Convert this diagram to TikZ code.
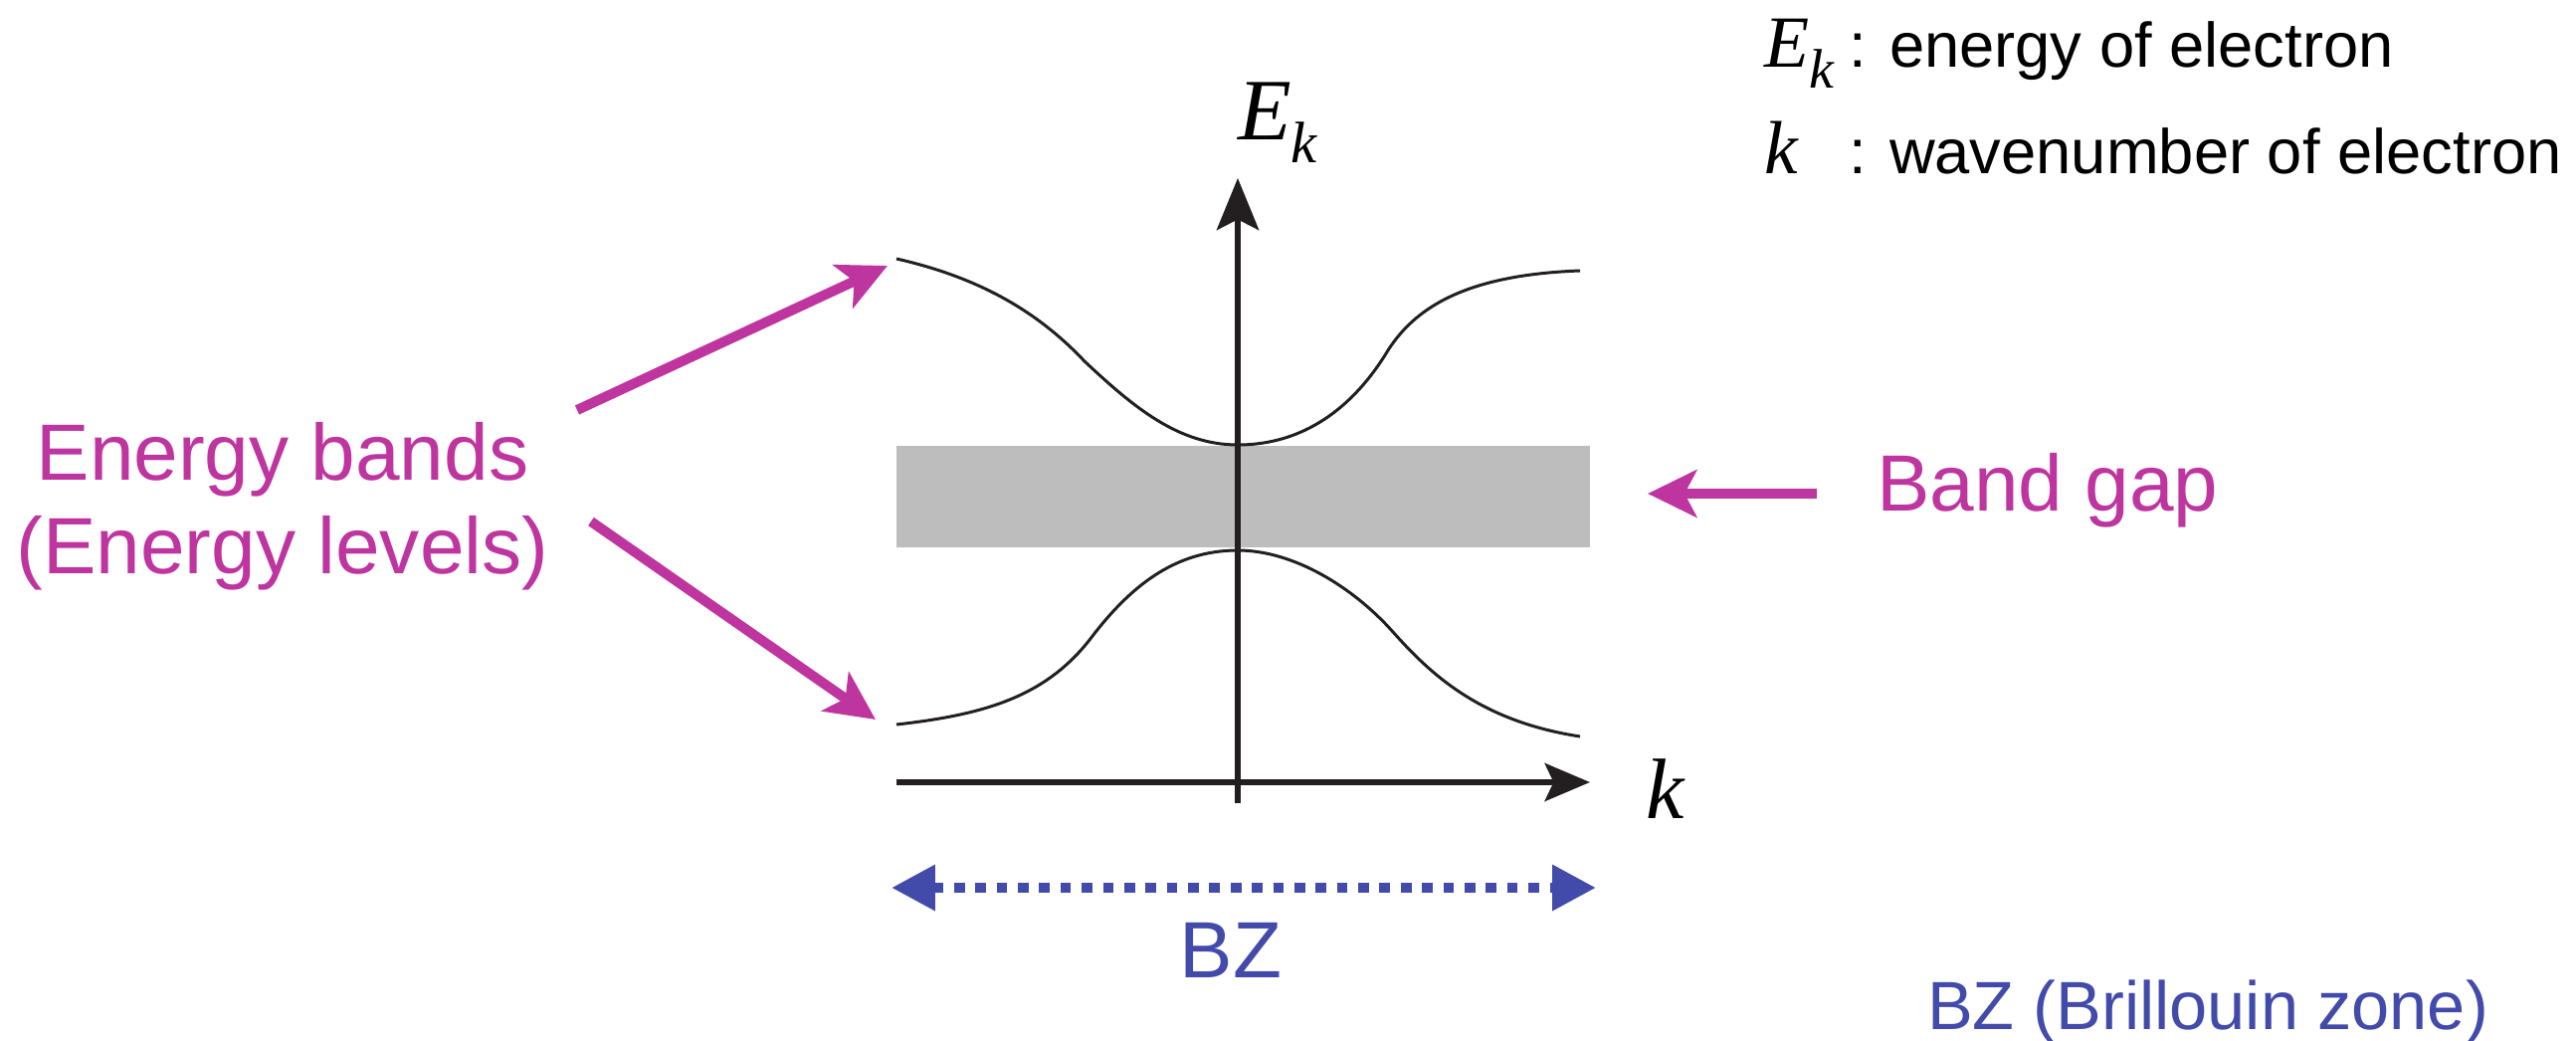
\documentclass[tikz,border=0pt]{standalone}
\usepackage{fontspec}
\setmainfont{Liberation Sans}
\newfontfamily\tmsfont{Liberation Serif}
\usetikzlibrary{arrows.meta}
\definecolor{mag}{RGB}{190,53,160}
\definecolor{bzblue}{RGB}{67,75,170}
\definecolor{gapgray}{RGB}{189,189,189}
\definecolor{inkblack}{RGB}{35,31,32}
\begin{document}
\begin{tikzpicture}[x=0.01cm,y=-0.01cm,
  lbl/.style={inner sep=0pt, outer sep=0pt},
  magtext/.style={lbl, text=mag, font=\fontsize{22.8pt}{27pt}\selectfont},
  bztext/.style={lbl, text=bzblue},
  legtext/.style={lbl, text=black, font=\fontsize{18pt}{22pt}\selectfont},
  magarrow/.style={draw=mag, line width=2.85pt, -{Stealth[length=14pt,width=13.5pt,inset=3.5pt]}},
  axisline/.style={draw=inkblack, line width=1.7pt},
  bandline/.style={draw=inkblack, line width=0.85pt},
  bzline/.style={draw=bzblue, line width=2.85pt, dash pattern=on 3.04pt off 3.04pt,
     {Triangle[length=12.5pt,width=12.5pt]}-{Triangle[length=12.5pt,width=12.5pt]}},
]
\useasboundingbox (0,0) rectangle (2589,1046);

% band gap
\fill[gapgray] (901,448) rectangle (1598,550);

% energy bands
\draw[bandline] (901,260) .. controls (980,278) and (1040,310) .. (1090,363)
  .. controls (1140,410) and (1185,447) .. (1244,447)
  .. controls (1310,447) and (1360,410) .. (1395,352)
  .. controls (1425,305) and (1480,276) .. (1588,272);
\draw[bandline] (901,728) .. controls (990,718) and (1050,700) .. (1095,643)
  .. controls (1135,590) and (1180,553) .. (1244,553)
  .. controls (1300,553) and (1360,590) .. (1400,635)
  .. controls (1440,680) and (1490,725) .. (1588,740);

% axes
\coordinate (vbot) at (1244,807);
\coordinate (vtop) at (1244,179);
\coordinate (hleft) at (901,786);
\coordinate (hright) at (1598,786);
\draw[axisline, -{Stealth[length=14.8pt,width=12pt,inset=3pt]}] (vbot) -- (vtop);
\draw[axisline, -{Stealth[length=12.9pt,width=10.8pt,inset=2.5pt]}] (hleft) -- (hright);

\node[lbl, anchor=base west] (Eaxis) at (1244,141)
  {\tmsfont\itshape\fontsize{25pt}{25pt}\selectfont E\raisebox{-6.3pt}{\fontsize{16.7pt}{16.7pt}\selectfont k}};
\node[lbl, anchor=base west] (kaxis) at (1654,822)
  {\tmsfont\itshape\fontsize{24.5pt}{24.5pt}\selectfont k};

% energy bands label and arrows
\node[magtext, anchor=base] (eb1) at (284,482) {Energy bands};
\node[magtext, anchor=base] (eb2) at (284,576) {(Energy levels)};
\coordinate (ua) at (580,412);
\coordinate (ub) at (892,267);
\coordinate (la) at (594,524);
\coordinate (lb) at (880,723);
\draw[magarrow] (ua) -- (ub);
\draw[magarrow] (la) -- (lb);

% band gap label
\node[magtext, anchor=base west] (bg) at (1886,513) {Band gap};
\coordinate (bga) at (1826,496);
\coordinate (bgb) at (1656,496);
\draw[magarrow] (bga) -- (bgb);

% Brillouin zone
\coordinate (bzl) at (896,892);
\coordinate (bzr) at (1604,892);
\draw[bzline] (bzl) -- (bzr);
\node[bztext, font=\fontsize{22.8pt}{27pt}\selectfont, anchor=base] (bz) at (1237,982) {BZ};
\node[bztext, font=\fontsize{19.5pt}{23pt}\selectfont, anchor=base] (bzlong) at (2219,1034) {BZ (Brillouin zone)};

% legend
\node[lbl, anchor=base west] (legE) at (1773,68)
  {\tmsfont\itshape\fontsize{21pt}{21pt}\selectfont E\raisebox{-5.7pt}{\fontsize{15.9pt}{15.9pt}\selectfont k}};
\node[legtext, anchor=base west] (legEt) at (1858,68) {: energy of electron};
\node[lbl, anchor=base west] (legk) at (1773,175)
  {\tmsfont\itshape\fontsize{21.5pt}{21.5pt}\selectfont k};
\node[legtext, anchor=base west] (legkt) at (1858,175) {: wavenumber of electron};
\end{tikzpicture}
\end{document}
